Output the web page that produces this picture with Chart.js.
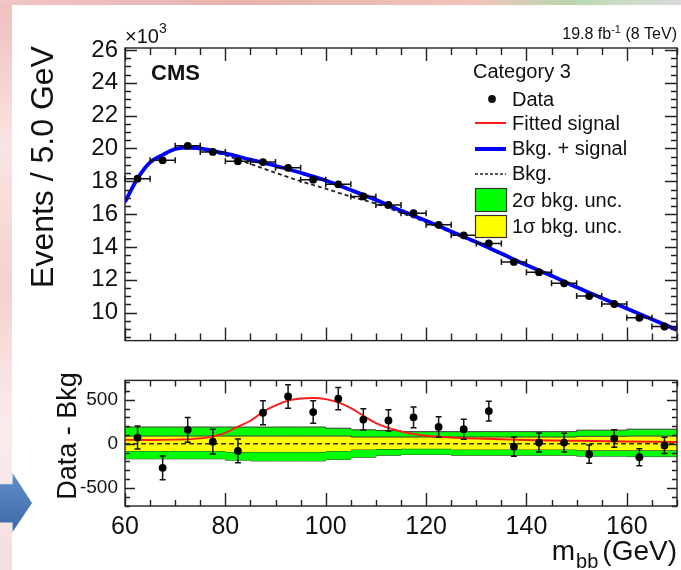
<!DOCTYPE html>
<html>
<head>
<meta charset="utf-8">
<script src="https://cdn.jsdelivr.net/npm/chart.js@4.4.0/dist/chart.umd.min.js"></script>
<style>
  html, body { margin: 0; padding: 0; }
  body {
    width: 681px; height: 570px; position: relative; overflow: hidden;
    background: linear-gradient(90deg, #f0c6c4 0%, #e7b2b0 35%, #efc4bd 70%, #b9d6ae 84%, #c9dcc2 90%, #d9d9d9 100%);
  }
  #strip { position: absolute; left: 0; top: 5px; width: 12px; height: 565px;
    background: linear-gradient(180deg, #efc0be 0%, #f9e4e3 25%, #f3d2d0 50%, #fbecec 75%, #f4dede 100%); }
  #paper { position: absolute; left: 12px; top: 5px; width: 669px; height: 565px; background: #fff; }
  #topChart { position: absolute; left: 0; top: 0; }
  #resChart { position: absolute; left: 0; top: 362px; }
  #arrow { position: absolute; left: 0; top: 473px; width: 33px; height: 59px;
    background: linear-gradient(180deg, #5f8fcb, #3d6aa6);
    clip-path: polygon(0 19%, 38% 19%, 38% 0, 97% 51%, 38% 100%, 38% 84%, 0 84%); }
</style>
</head>
<body>
<div id="strip"></div>
<div id="paper"></div>
<canvas id="topChart" width="681" height="362"></canvas>
<canvas id="resChart" width="681" height="208"></canvas>
<div id="arrow"></div>
<script>
// ---- data ----
const binEdges = [60, 65, 70, 75, 80, 85, 90, 95, 100, 105, 110, 115, 120, 125, 130, 135, 140, 145, 150, 155, 160, 165, 170];
const binCenters = [62.5, 67.5, 72.5, 77.5, 82.5, 87.5, 92.5, 97.5, 102.5, 107.5, 112.5, 117.5, 122.5, 127.5, 132.5, 137.5, 142.5, 147.5, 152.5, 157.5, 162.5, 167.5];
// events per bin, in units of 10^3
const dataEvents = [18.16, 19.28, 20.16, 19.79, 19.23, 19.17, 18.82, 18.10, 17.82, 17.08, 16.56, 16.06, 15.35, 14.71, 14.22, 13.09, 12.47, 11.79, 11.01, 10.53, 9.69, 9.16];
// statistical error per bin, in events
const dataErr = [130, 135, 140, 140, 135, 136, 134, 128, 126, 122, 120, 118, 115, 113, 112, 110, 108, 106, 104, 100, 96, 92];
// data minus background, in events
const dataMinusBkg = [71, -272, 159, 24, -81, 352, 537, 360, 512, 275, 265, 300, 191, 166, 371, -32, 14, 14, -117, 60, -152, -18];

// fit curves in the upper panel (10^3 events)
const fitX = [60, 62.5, 65, 67.5, 70, 72.5, 75, 77.5, 80, 85, 90, 95, 100, 105, 110, 115, 120, 125, 130, 135, 140, 145, 150, 155, 160, 165, 170];
const fitTotal = [16.75, 18.17, 19.15, 19.61, 19.97, 20.06, 20.0, 19.86, 19.7, 19.32, 18.95, 18.52, 18.05, 17.47, 16.87, 16.22, 15.6, 14.95, 14.3, 13.6, 12.9, 12.25, 11.55, 10.9, 10.25, 9.6, 8.95];
const fitBkg = [16.71, 18.13, 19.11, 19.56, 19.92, 20.0, 19.94, 19.78, 19.58, 19.06, 18.52, 18.01, 17.55, 17.07, 16.64, 16.08, 15.51, 14.88, 14.24, 13.55, 12.86, 12.21, 11.52, 10.87, 10.22, 9.58, 8.93];

// fitted signal in the lower panel (events)
const sigX = [60, 65, 70, 75, 77.5, 80, 82.5, 85, 87.5, 90, 92.5, 95, 97.5, 100, 102.5, 105, 107.5, 110, 112.5, 115, 117.5, 120, 125, 130, 140, 150, 160, 170];
const sigFit = [45, 44, 48, 62, 85, 125, 195, 262, 362, 435, 490, 513, 519, 506, 470, 405, 318, 235, 180, 140, 112, 92, 72, 60, 43, 34, 27, 20];

// background uncertainty bands per bin (events)
const band2Up = [201, 190, 190, 190, 190, 190, 190, 190, 190, 177, 159, 150, 138, 138, 138, 138, 138, 138, 138, 155, 155, 166];
const band2Lo = [-187, -170, -170, -170, -170, -185, -194, -194, -194, -177, -152, -130, -120, -120, -130, -130, -130, -130, -130, -140, -140, -145];
const band1Up = [95, 88, 88, 88, 88, 88, 88, 88, 88, 88, 77, 77, 77, 77, 77, 77, 77, 77, 77, 85, 85, 88];
const band1Lo = [-81, -81, -81, -81, -81, -92, -92, -92, -92, -81, -64, -60, -56, -56, -64, -64, -64, -64, -64, -74, -74, -74];

const topYTicks = [10, 12, 14, 16, 18, 20, 22, 24, 26];
const resYTicks = [-500, 0, 500];
const xTicks = [60, 80, 100, 120, 140, 160];
const legendTitle = 'Category 3';
const legendLabels = ['Data', 'Fitted signal', 'Bkg. + signal', 'Bkg.', '2\u03c3 bkg. unc.', '1\u03c3 bkg. unc.'];

const FONT = '"Liberation Sans", Arial, sans-serif';
Chart.defaults.font.family = FONT;
Chart.defaults.color = '#111';

function pts(xs, ys) { return xs.map((x, i) => ({ x: x, y: ys[i] })); }
function stepPts(vals) { return binEdges.map((x, i) => ({ x: x, y: vals[Math.min(i, vals.length - 1)] })); }

// ROOT style frame with inward ticks on all four sides
const rootFrame = {
  id: 'rootFrame',
  afterDatasetsDraw(chart, args, o) {
    const { ctx, chartArea: a, scales: { x, y } } = chart;
    const isMajor = (v, step) => Math.abs(v / step - Math.round(v / step)) < 1e-6;
    ctx.save();
    ctx.strokeStyle = '#222';
    ctx.lineWidth = 1.4;
    ctx.strokeRect(a.left, a.top, a.right - a.left, a.bottom - a.top);
    ctx.beginPath();
    for (let v = Math.ceil(x.min / o.xMinor) * o.xMinor; v <= x.max + 1e-9; v += o.xMinor) {
      const p = Math.round(x.getPixelForValue(v)) + 0.5;
      const len = isMajor(v, o.xMajor) ? o.xMajLen : o.xMinLen;
      ctx.moveTo(p, a.bottom); ctx.lineTo(p, a.bottom - len);
      ctx.moveTo(p, a.top); ctx.lineTo(p, a.top + len);
    }
    for (let v = Math.ceil(y.min / o.yMinor) * o.yMinor; v <= y.max + 1e-9; v += o.yMinor) {
      const p = Math.round(y.getPixelForValue(v)) + 0.5;
      const len = isMajor(v, o.yMajor) ? o.yMajLen : o.yMinLen;
      ctx.moveTo(a.left, p); ctx.lineTo(a.left + len, p);
      ctx.moveTo(a.right, p); ctx.lineTo(a.right - len, p);
    }
    ctx.stroke();
    ctx.restore();
  }
};

// error bars drawn under the data markers (dataset 0)
const errorBars = {
  id: 'errorBars',
  beforeDatasetDraw(chart, args, o) {
    if (args.index !== 0) return;
    const { ctx, scales: { x, y } } = chart;
    ctx.save();
    ctx.strokeStyle = '#111';
    ctx.lineWidth = 1.5;
    ctx.beginPath();
    o.values.forEach((v, i) => {
      const cx = x.getPixelForValue(binCenters[i]);
      const cy = y.getPixelForValue(v);
      if (o.horizontal) {
        const l = x.getPixelForValue(binEdges[i]);
        const r = x.getPixelForValue(binEdges[i + 1]);
        ctx.moveTo(l, cy); ctx.lineTo(r, cy);
        ctx.moveTo(l, cy - o.cap); ctx.lineTo(l, cy + o.cap);
        ctx.moveTo(r, cy - o.cap); ctx.lineTo(r, cy + o.cap);
      }
      const e = dataErr[i] * o.errScale;
      const t = y.getPixelForValue(v + e);
      const b = y.getPixelForValue(v - e);
      ctx.moveTo(cx, t); ctx.lineTo(cx, b);
      if (o.vCaps) {
        ctx.moveTo(cx - o.cap, t); ctx.lineTo(cx + o.cap, t);
        ctx.moveTo(cx - o.cap, b); ctx.lineTo(cx + o.cap, b);
      }
    });
    ctx.stroke();
    ctx.restore();
  }
};

function drawSup(ctx, parts, x, align) {
  // parts: [text, fontSize, baseline, gapAfter]
  let w = 0;
  parts.forEach(p => { ctx.font = p[1] + 'px ' + FONT; w += ctx.measureText(p[0]).width + (p[3] || 0); });
  let cx = align === 'right' ? x - w : x;
  ctx.textAlign = 'left';
  parts.forEach(p => {
    ctx.font = p[1] + 'px ' + FONT;
    ctx.fillText(p[0], cx, p[2]);
    cx += ctx.measureText(p[0]).width + (p[3] || 0);
  });
}

const topTexts = {
  id: 'topTexts',
  afterDraw(chart) {
    const ctx = chart.ctx;
    ctx.save();
    ctx.fillStyle = '#111';
    ctx.textBaseline = 'alphabetic';
    // exponent and luminosity
    drawSup(ctx, [['\u00d710', 20, 43], ['3', 14, 33]], 125, 'left');
    drawSup(ctx, [['19.8 fb', 16, 39], ['-1', 11, 33], [' (8 TeV)', 16, 39]], 677, 'right');
    // CMS label
    ctx.font = 'bold 22px ' + FONT;
    ctx.textAlign = 'left';
    ctx.fillText('CMS', 151, 80);
    // y title
    ctx.save();
    ctx.translate(53, 167);
    ctx.rotate(-Math.PI / 2);
    ctx.textAlign = 'center';
    ctx.font = '32px ' + FONT;
    ctx.fillText('Events / 5.0 GeV', 0, 0);
    ctx.restore();
    // legend
    ctx.font = '20px ' + FONT;
    ctx.textAlign = 'left';
    ctx.fillText(legendTitle, 473, 78);
    const base = [106, 130, 155, 180, 207, 233];
    legendLabels.forEach((t, i) => ctx.fillText(t, 512, base[i]));
    const x0 = 475, x1 = 506;
    ctx.beginPath(); ctx.arc(492, 99, 3.9, 0, Math.PI * 2); ctx.fill();
    ctx.lineWidth = 1.8; ctx.strokeStyle = '#ff0000';
    ctx.beginPath(); ctx.moveTo(x0, 123); ctx.lineTo(x1, 123); ctx.stroke();
    ctx.lineWidth = 4; ctx.strokeStyle = '#0000ff';
    ctx.beginPath(); ctx.moveTo(x0, 149); ctx.lineTo(x1, 149); ctx.stroke();
    ctx.lineWidth = 1.6; ctx.strokeStyle = '#222'; ctx.setLineDash([3, 2]);
    ctx.beginPath(); ctx.moveTo(x0, 174); ctx.lineTo(x1, 174); ctx.stroke();
    ctx.setLineDash([]);
    ctx.lineWidth = 1.2; ctx.strokeStyle = '#333';
    ctx.fillStyle = '#00ff00'; ctx.fillRect(x0, 188, x1 - x0, 23); ctx.strokeRect(x0 + 0.5, 188.5, x1 - x0, 23);
    ctx.fillStyle = '#ffff00'; ctx.fillRect(x0, 215, x1 - x0, 22); ctx.strokeRect(x0 + 0.5, 215.5, x1 - x0, 22);
    ctx.restore();
  }
};

const resTexts = {
  id: 'resTexts',
  afterDraw(chart) {
    const ctx = chart.ctx;
    ctx.save();
    ctx.fillStyle = '#111';
    ctx.textBaseline = 'alphabetic';
    ctx.save();
    ctx.translate(76, 436 - 362);
    ctx.rotate(-Math.PI / 2);
    ctx.textAlign = 'center';
    ctx.font = '27px ' + FONT;
    ctx.fillText('Data - Bkg', 0, 0);
    ctx.restore();
    drawSup(ctx, [['m', 28, 560 - 362, 1], ['bb', 20, 568 - 362, 4], ['(GeV)', 28, 560 - 362]], 677, 'right');
    ctx.restore();
  }
};

const axisFont = size => ({ family: FONT, size: size });

new Chart(document.getElementById('topChart'), {
  type: 'line',
  data: {
    datasets: [
      { label: 'Data', data: pts(binCenters, dataEvents), showLine: false,
        pointRadius: 3.9, pointBackgroundColor: '#000', pointBorderColor: '#000', pointBorderWidth: 0 },
      { label: 'Bkg. + signal', data: pts(fitX, fitTotal), borderColor: '#0000ff', borderWidth: 3.8,
        pointRadius: 0, cubicInterpolationMode: 'monotone', fill: false },
      { label: 'Bkg.', data: pts(fitX, fitBkg), borderColor: '#222', borderWidth: 1.8, borderDash: [4, 3],
        pointRadius: 0, cubicInterpolationMode: 'monotone', fill: false }
    ]
  },
  options: {
    responsive: false,
    animation: false,
    layout: { padding: { top: 48, right: 2.5, left: 0, bottom: 0 } },
    plugins: {
      legend: { display: false },
      tooltip: { enabled: false },
      rootFrame: { xMinor: 5, xMajor: 20, xMajLen: 13, xMinLen: 7, yMinor: 0.5, yMajor: 2, yMajLen: 12, yMinLen: 6 },
      errorBars: { values: dataEvents, horizontal: true, errScale: 0.001, cap: 3, vCaps: false }
    },
    scales: {
      x: { type: 'linear', min: 60, max: 170,
        grid: { display: false, drawTicks: false }, border: { display: false },
        ticks: { display: false },
        afterFit: s => { s.height = 9; } },
      y: { type: 'linear', min: 8.3, max: 26.12,
        grid: { display: false, drawTicks: false }, border: { display: false },
        afterBuildTicks: s => { s.ticks = topYTicks.map(v => ({ value: v })); },
        ticks: { font: axisFont(24), color: '#111', padding: 7 },
        afterFit: s => { s.width = 125; } }
    }
  },
  plugins: [rootFrame, errorBars, topTexts]
});

new Chart(document.getElementById('resChart'), {
  type: 'line',
  data: {
    datasets: [
      { label: 'Data', data: pts(binCenters, dataMinusBkg), showLine: false,
        pointRadius: 3.9, pointBackgroundColor: '#000', pointBorderColor: '#000', pointBorderWidth: 0 },
      { label: 'Fitted signal', data: pts(sigX, sigFit), borderColor: '#ff1a1a', borderWidth: 1.9,
        pointRadius: 0, cubicInterpolationMode: 'monotone', fill: false },
      { label: 'zero', data: pts([binEdges[0], binEdges[binEdges.length - 1]], [0, 0]),
        borderColor: '#333', borderWidth: 1.4, borderDash: [5, 3], pointRadius: 0, fill: false },
      { label: '1s up', data: stepPts(band1Up), stepped: 'after', borderColor: '#3a3a3a', borderWidth: 1,
        backgroundColor: '#ffff00', pointRadius: 0, fill: '+1' },
      { label: '1s lo', data: stepPts(band1Lo), stepped: 'after', borderColor: '#3a3a3a', borderWidth: 1,
        pointRadius: 0, fill: false },
      { label: '2s up', data: stepPts(band2Up), stepped: 'after', borderColor: '#3a3a3a', borderWidth: 1,
        backgroundColor: '#00ff00', pointRadius: 0, fill: '+1' },
      { label: '2s lo', data: stepPts(band2Lo), stepped: 'after', borderColor: '#3a3a3a', borderWidth: 1,
        pointRadius: 0, fill: false }
    ]
  },
  options: {
    responsive: false,
    animation: false,
    layout: { padding: { top: 9, right: 2.5, left: 0, bottom: 0 } },
    plugins: {
      legend: { display: false },
      tooltip: { enabled: false },
      rootFrame: { xMinor: 5, xMajor: 20, xMajLen: 13, xMinLen: 6, yMinor: 100, yMajor: 500, yMajLen: 10, yMinLen: 5 },
      errorBars: { values: dataMinusBkg, horizontal: false, errScale: 1, cap: 3, vCaps: true }
    },
    scales: {
      x: { type: 'linear', min: 60, max: 170,
        grid: { display: false, drawTicks: false }, border: { display: false },
        afterBuildTicks: s => { s.ticks = xTicks.map(v => ({ value: v })); },
        ticks: { font: axisFont(25), color: '#111', padding: 6, maxRotation: 0 },
        afterFit: s => { s.height = 64; } },
      y: { type: 'linear', min: -705, max: 719,
        grid: { display: false, drawTicks: false }, border: { display: false },
        afterBuildTicks: s => { s.ticks = resYTicks.map(v => ({ value: v })); },
        ticks: { font: axisFont(19), color: '#111', padding: 7 },
        afterFit: s => { s.width = 125; } }
    }
  },
  plugins: [rootFrame, errorBars, resTexts]
});
</script>
</body>
</html>
